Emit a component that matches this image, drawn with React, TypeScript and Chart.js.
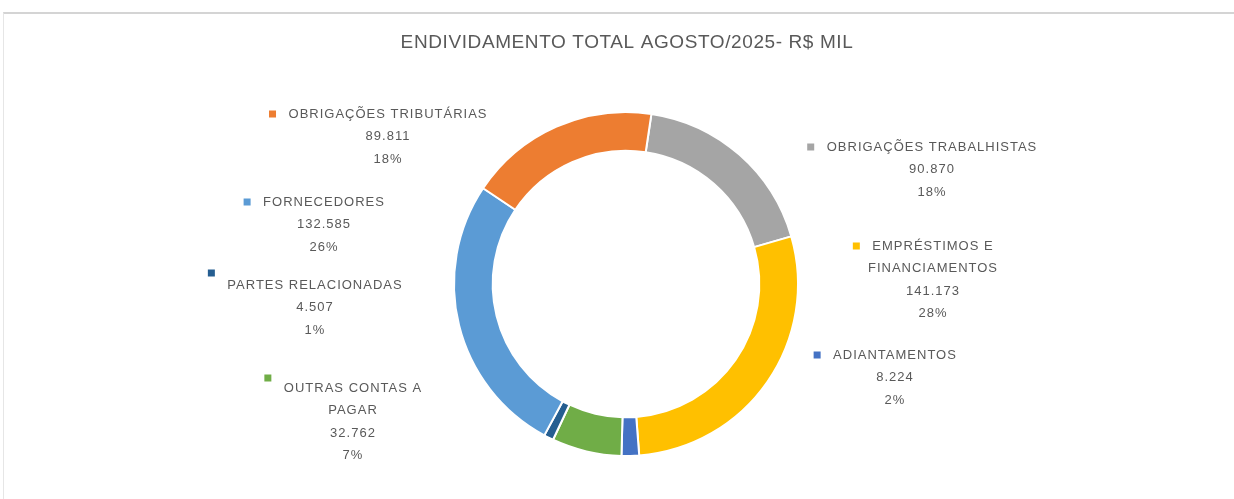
import { useEffect, useRef } from 'react';
import { Chart, registerables } from 'chart.js';

Chart.register(...registerables);

const chartTitle = 'ENDIVIDAMENTO TOTAL AGOSTO/2025- R$ MIL';
const categories = [
  'OBRIGAÇÕES TRABALHISTAS',
  'EMPRÉSTIMOS E FINANCIAMENTOS',
  'ADIANTAMENTOS',
  'OUTRAS CONTAS A PAGAR',
  'PARTES RELACIONADAS',
  'FORNECEDORES',
  'OBRIGAÇÕES TRIBUTÁRIAS',
];
const values = [90870, 141173, 8224, 32762, 4507, 132585, 89811];
const percentLabels = ['18%', '28%', '2%', '7%', '1%', '26%', '18%'];
const colors = ['#A5A5A5', '#FFC000', '#4472C4', '#70AD47', '#255E91', '#5B9BD5', '#ED7D31'];

// label layout: offsets of the text block relative to the doughnut centre
const labelLayout = [
  { dx: 306, dy: -137, wrap: 0, keyDy: 0 },
  { dx: 307, dy: -38, wrap: 2, keyDy: 0 },
  { dx: 269, dy: 71, wrap: 0, keyDy: 0 },
  { dx: -273, dy: 104, wrap: 3, keyDy: -10 },
  { dx: -311, dy: 1, wrap: 0, keyDy: -12 },
  { dx: -302, dy: -82, wrap: 0, keyDy: 0 },
  { dx: -238, dy: -170, wrap: 0, keyDy: 0 },
];

const TEXT_COLOR = '#595959';
const LABEL_FONT = '13px "Liberation Sans", sans-serif';
const TITLE_FONT = '19px "Liberation Sans", sans-serif';
const LINE_H = 22.5;

function fmt(v: number): string {
  return String(v).replace(/\B(?=(\d{3})+(?!\d))/g, '.');
}

function splitName(name: string, wrap: number): string[] {
  if (!wrap) return [name];
  const words = name.split(' ');
  return [words.slice(0, wrap).join(' '), words.slice(wrap).join(' ')];
}

const labelsPlugin = {
  id: 'customLabels',
  afterDraw(chart: any) {
    const ctx = chart.ctx as CanvasRenderingContext2D;
    const meta = chart.getDatasetMeta(0);
    const arc = meta.data[0];
    if (!arc) return;
    const cx = arc.x;
    const cy = arc.y;
    ctx.save();
    ctx.fillStyle = TEXT_COLOR;
    ctx.textAlign = 'center';
    ctx.textBaseline = 'middle';
    (ctx as any).letterSpacing = '0.6px';
    ctx.font = TITLE_FONT;
    ctx.fillText(chartTitle, cx + 1, 43);

    ctx.font = LABEL_FONT;
    (ctx as any).letterSpacing = '1px';
    categories.forEach((name, i) => {
      const lay = labelLayout[i];
      const lines = [...splitName(name, lay.wrap), fmt(values[i]), percentLabels[i]];
      const tx = cx + lay.dx;
      const ty = cy + lay.dy;
      ctx.fillStyle = TEXT_COLOR;
      lines.forEach((ln, k) => {
        ctx.fillText(ln, tx, ty + k * LINE_H);
      });
      const w = ctx.measureText(lines[0]).width;
      const kx = tx - w / 2 - 16;
      ctx.fillStyle = colors[i];
      ctx.fillRect(kx - 3.5, ty + lay.keyDy - 3.5, 7, 7);
    });
    ctx.restore();
  },
};

export default function App() {
  const ref = useRef<HTMLCanvasElement | null>(null);
  useEffect(() => {
    if (!ref.current) return;
    const chart = new Chart(ref.current, {
      type: 'doughnut',
      data: {
        labels: categories,
        datasets: [
          {
            data: values,
            backgroundColor: colors,
            borderColor: '#ffffff',
            borderWidth: 2,
          },
        ],
      },
      options: {
        responsive: false,
        animation: false,
        rotation: 8.5,
        cutout: '77.5%',
        layout: { padding: { top: 111, bottom: 42, left: 18, right: 0 } },
        plugins: {
          legend: { display: false },
          title: { display: false },
          tooltip: { enabled: false },
        },
      },
      plugins: [labelsPlugin],
    });
    return () => chart.destroy();
  }, []);
  return (
    <div style={{ position: 'fixed', left: 0, top: 0, width: 1234, height: 499, background: '#fff', overflow: 'hidden' }}>
      <div
        style={{
          position: 'absolute',
          left: 3,
          top: 12,
          width: 1240,
          height: 600,
          borderTop: '2px solid #d4d4d4',
          borderLeft: '1px solid #e6e6e6',
        }}
      />
      <canvas ref={ref} width={1234} height={499} style={{ position: 'absolute', left: 0, top: 0 }} />
    </div>
  );
}
